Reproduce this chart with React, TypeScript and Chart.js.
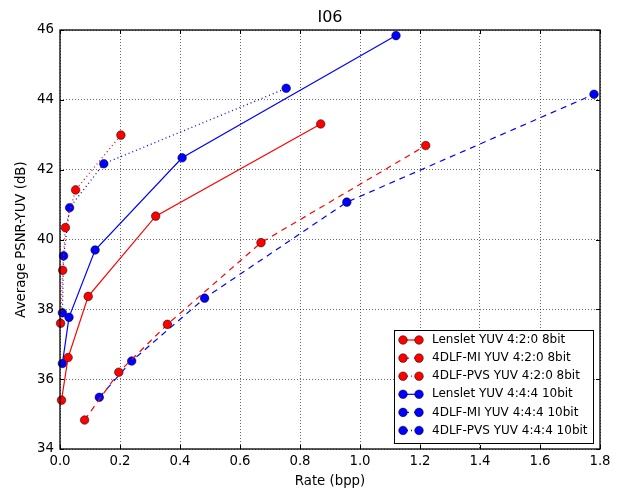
import React, { useEffect, useRef } from 'react';
import { Chart, registerables } from 'chart.js';

Chart.register(...registerables);

const chartTitle = 'I06';
const xAxisTitle = 'Rate (bpp)';
const yAxisTitle = 'Average PSNR-YUV (dB)';

const seriesLabels = [
  'Lenslet YUV 4:2:0 8bit',
  '4DLF-MI YUV 4:2:0 8bit',
  '4DLF-PVS YUV 4:2:0 8bit',
  'Lenslet YUV 4:4:4 10bit',
  '4DLF-MI YUV 4:4:4 10bit',
  '4DLF-PVS YUV 4:4:4 10bit',
];

const lenslet420Rate = [0.005, 0.027, 0.094, 0.319, 0.869];
const lenslet420Psnr = [35.4, 36.62, 38.37, 40.67, 43.31];

const mi420Rate = [0.082, 0.196, 0.358, 0.67, 1.219];
const mi420Psnr = [34.83, 36.2, 37.57, 39.91, 42.69];

const pvs420Rate = [0.002, 0.009, 0.018, 0.052, 0.203];
const pvs420Psnr = [37.6, 39.12, 40.34, 41.42, 42.99];

const lenslet444Rate = [0.008, 0.03, 0.117, 0.407, 1.12];
const lenslet444Psnr = [36.45, 37.77, 39.7, 42.34, 45.84];

const mi444Rate = [0.131, 0.239, 0.482, 0.956, 1.78];
const mi444Psnr = [35.48, 36.52, 38.32, 41.07, 44.16];

const pvs444Rate = [0.008, 0.012, 0.032, 0.146, 0.754];
const pvs444Psnr = [37.9, 39.53, 40.91, 42.17, 44.33];

const xTickMin = 0;
const xTickMax = 1.8;
const xTickStep = 0.2;
const yTickMin = 34;
const yTickMax = 46;
const yTickStep = 2;

const RED = '#ff0000';
const BLUE = '#0000ff';
const FONT = "'DejaVu Sans', sans-serif";

function pts(xs: number[], ys: number[]) {
  return xs.map((x, i) => ({ x, y: ys[i] }));
}

function makeDataset(label: string, xs: number[], ys: number[], color: string, dash: number[], width: number) {
  return {
    label,
    data: pts(xs, ys),
    showLine: true,
    borderColor: color,
    backgroundColor: color,
    borderWidth: width,
    borderDash: dash,
    pointRadius: 4.3,
    pointBackgroundColor: color,
    pointBorderColor: 'rgba(0,0,0,0.85)',
    pointBorderWidth: 0.6,
    clip: false,
  };
}

const framePlugin = {
  id: 'mplFrame',
  afterDraw(chart: any) {
    const { ctx, chartArea } = chart;
    const { left, right, top, bottom } = chartArea;
    const xs = chart.scales.x;
    const ys = chart.scales.y;
    ctx.save();
    // frame
    ctx.strokeStyle = '#000';
    ctx.lineWidth = 1.3;
    ctx.setLineDash([]);
    ctx.strokeRect(left, top, right - left, bottom - top);
    // inward ticks
    const tl = 4;
    ctx.lineWidth = 1;
    ctx.beginPath();
    xs.ticks.forEach((t: any) => {
      const px = Math.round(xs.getPixelForValue(t.value)) + 0.5;
      ctx.moveTo(px, bottom);
      ctx.lineTo(px, bottom - tl);
      ctx.moveTo(px, top);
      ctx.lineTo(px, top + tl);
    });
    ys.ticks.forEach((t: any) => {
      const py = Math.round(ys.getPixelForValue(t.value)) + 0.5;
      ctx.moveTo(left, py);
      ctx.lineTo(left + tl, py);
      ctx.moveTo(right, py);
      ctx.lineTo(right - tl, py);
    });
    ctx.stroke();

    // titles
    ctx.fillStyle = '#000';
    ctx.textAlign = 'center';
    ctx.textBaseline = 'middle';
    ctx.font = `16px ${FONT}`;
    ctx.fillText(chartTitle, (left + right) / 2, 18);
    ctx.font = `13.3px ${FONT}`;
    ctx.fillText(xAxisTitle, (left + right) / 2, 482);
    ctx.save();
    ctx.translate(22, (top + bottom) / 2);
    ctx.rotate(-Math.PI / 2);
    ctx.fillText(yAxisTitle, 0, 0);
    ctx.restore();

    // legend
    const lx = 394;
    const ly = 330;
    const lw = 199;
    const lh = 113;
    ctx.fillStyle = '#fff';
    ctx.fillRect(lx, ly, lw, lh);
    ctx.strokeStyle = '#000';
    ctx.lineWidth = 1;
    ctx.strokeRect(lx + 0.5, ly + 0.5, lw, lh);
    const rowH = 18.1;
    chart.data.datasets.forEach((ds: any, i: number) => {
      const cy = ly + 10 + i * rowH;
      const m1 = lx + 9;
      const m2 = lx + 25;
      ctx.save();
      ctx.strokeStyle = ds.borderColor;
      ctx.lineWidth = ds.borderWidth;
      ctx.setLineDash(ds.borderDash || []);
      ctx.beginPath();
      ctx.moveTo(m1, cy);
      ctx.lineTo(m2, cy);
      ctx.stroke();
      ctx.setLineDash([]);
      [m1, m2].forEach((mx) => {
        ctx.beginPath();
        ctx.arc(mx, cy, 4.3, 0, Math.PI * 2);
        ctx.fillStyle = ds.pointBackgroundColor;
        ctx.fill();
        ctx.strokeStyle = ds.pointBorderColor;
        ctx.lineWidth = ds.pointBorderWidth;
        ctx.stroke();
      });
      ctx.restore();
      ctx.fillStyle = '#000';
      ctx.font = `12px ${FONT}`;
      ctx.textAlign = 'left';
      ctx.textBaseline = 'middle';
      ctx.fillText(ds.label, lx + 38, cy);
    });
    ctx.restore();
  },
};

export default function App() {
  const canvasRef = useRef<HTMLCanvasElement | null>(null);

  useEffect(() => {
    const canvas = canvasRef.current;
    if (!canvas) return;
    const datasets = [
      makeDataset(seriesLabels[0], lenslet420Rate, lenslet420Psnr, RED, [], 1.2),
      makeDataset(seriesLabels[1], mi420Rate, mi420Psnr, RED, [6, 5], 1.2),
      makeDataset(seriesLabels[2], pvs420Rate, pvs420Psnr, RED, [1, 3], 1.3),
      makeDataset(seriesLabels[3], lenslet444Rate, lenslet444Psnr, BLUE, [], 1.2),
      makeDataset(seriesLabels[4], mi444Rate, mi444Psnr, BLUE, [6, 5], 1.2),
      makeDataset(seriesLabels[5], pvs444Rate, pvs444Psnr, BLUE, [1, 3], 1.3),
    ];
    const chart = new Chart(canvas, {
      type: 'scatter',
      data: { datasets } as any,
      options: {
        responsive: false,
        animation: false,
        devicePixelRatio: 1,
        layout: { padding: { left: 0, top: 30, right: 25, bottom: 0 } },
        plugins: {
          legend: { display: false },
          title: { display: false },
          tooltip: { enabled: false },
        },
        scales: {
          x: {
            type: 'linear',
            min: xTickMin,
            max: xTickMax,
            afterFit: (s: any) => { s.height = 48; },
            ticks: {
              stepSize: xTickStep,
              color: '#000',
              padding: 5,
              font: { family: FONT, size: 13.3 },
              callback: (v: any) => Number(v).toFixed(1),
            },
            grid: { color: 'rgba(0,0,0,0.75)', lineWidth: 0.8, drawTicks: false },
            border: { display: false, dash: [1, 2] },
          },
          y: {
            type: 'linear',
            min: yTickMin,
            max: yTickMax,
            afterFit: (s: any) => { s.width = 60; },
            ticks: {
              stepSize: yTickStep,
              color: '#000',
              padding: 6,
              font: { family: FONT, size: 13.3 },
              callback: (v: any) => String(v),
            },
            grid: { color: 'rgba(0,0,0,0.75)', lineWidth: 0.8, drawTicks: false },
            border: { display: false, dash: [1, 2] },
          },
        },
      } as any,
      plugins: [framePlugin],
    });
    return () => chart.destroy();
  }, []);

  return (
    <div style={{ position: 'fixed', left: 0, top: 0, width: 625, height: 497, background: '#fff' }}>
      <canvas ref={canvasRef} width={625} height={497} />
    </div>
  );
}
